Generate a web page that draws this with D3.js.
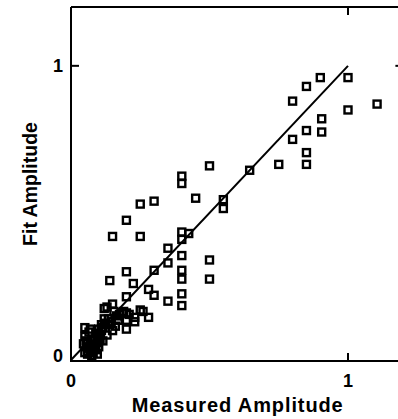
<!DOCTYPE html>
<html>
<head>
<meta charset="utf-8">
<script src="https://cdn.jsdelivr.net/npm/d3@7"></script>
<style>
  html, body { margin: 0; padding: 0; background: #fff; }
  svg { display: block; }
</style>
</head>
<body>
<svg id="chart" width="398" height="419"></svg>
<script>
// Measured amplitude (x) and fit amplitude (y) for each point
const measured = [
  1.00, 0.90, 0.85, 0.80, 1.00, 1.105, 0.905, 0.905, 0.85, 0.80,
  0.85, 0.85, 0.75, 0.645, 0.50, 0.55, 0.55, 0.40, 0.40, 0.45,
  0.30, 0.25, 0.20, 0.15, 0.25, 0.40, 0.425, 0.40, 0.35, 0.40,
  0.35, 0.50, 0.50, 0.40, 0.40, 0.40, 0.40, 0.35, 0.30, 0.20,
  0.14, 0.225, 0.28, 0.30, 0.20, 0.13, 0.15, 0.25, 0.26, 0.28,
  0.20, 0.20, 0.20, 0.05, 0.10, 0.15, 0.13, 0.12, 0.19, 0.155,
  0.12, 0.14, 0.11, 0.185, 0.21, 0.23, 0.23, 0.17, 0.16, 0.095,
  0.05, 0.055, 0.06, 0.05, 0.07, 0.075, 0.08, 0.085, 0.09, 0.095,
  0.10, 0.06, 0.08, 0.065, 0.11, 0.105, 0.07, 0.045, 0.09, 0.115,
  0.125, 0.135, 0.075, 0.10, 0.065, 0.085, 0.055, 0.095, 0.115, 0.145,
  0.165, 0.175, 0.105, 0.06
];
const fit = [
  0.96, 0.96, 0.93, 0.88, 0.85, 0.87, 0.82, 0.775, 0.78, 0.75,
  0.705, 0.665, 0.665, 0.645, 0.66, 0.545, 0.515, 0.625, 0.60, 0.55,
  0.54, 0.53, 0.475, 0.42, 0.42, 0.435, 0.43, 0.41, 0.38, 0.355,
  0.33, 0.34, 0.275, 0.305, 0.275, 0.225, 0.185, 0.20, 0.305, 0.30,
  0.27, 0.26, 0.24, 0.22, 0.215, 0.18, 0.19, 0.17, 0.165, 0.145,
  0.16, 0.135, 0.105, 0.11, 0.105, 0.10, 0.085, 0.175, 0.165, 0.165,
  0.14, 0.12, 0.12, 0.16, 0.155, 0.145, 0.13, 0.135, 0.115, 0.09,
  0.025, 0.045, 0.06, 0.08, 0.03, 0.05, 0.07, 0.04, 0.09, 0.06,
  0.075, 0.02, 0.025, 0.095, 0.10, 0.085, 0.105, 0.055, 0.035, 0.11,
  0.125, 0.14, 0.015, 0.045, 0.04, 0.055, 0.065, 0.02, 0.065, 0.13,
  0.15, 0.155, 0.07, 0.03
];
const fitLine = [[0, 0], [1, 1]];
const xTicks = [0, 1];
const yTicks = [0, 1];
const xTitle = "Measured Amplitude";
const yTitle = "Fit Amplitude";

const svg = d3.select("#chart");
const x = d3.scaleLinear().domain([0, 1.2]).range([71, 403.4]);
const y = d3.scaleLinear().domain([0, 1.2]).range([360, 7]);

const ink = "#000";

// frame
const frame = svg.append("g").attr("fill", "none").attr("stroke", ink).attr("stroke-width", 2);
frame.append("line").attr("x1", x(0)).attr("x2", x(1.2)).attr("y1", y(0) + 1).attr("y2", y(0) + 1);
frame.append("line").attr("x1", x(0)).attr("x2", x(1.2)).attr("y1", y(1.2)).attr("y2", y(1.2));
frame.append("line").attr("x1", x(0)).attr("x2", x(0)).attr("y1", y(1.2)).attr("y2", y(0) + 2);
frame.append("line").attr("x1", x(1.2)).attr("x2", x(1.2)).attr("y1", y(1.2)).attr("y2", y(0) + 2);

// ticks (inward, on all four sides) for non-zero ticks
const tl = 8;
xTicks.filter(v => v > 0).forEach(v => {
  frame.append("line").attr("x1", x(v)).attr("x2", x(v)).attr("y1", y(0) + 1).attr("y2", y(0) + 1 - tl);
  frame.append("line").attr("x1", x(v)).attr("x2", x(v)).attr("y1", y(1.2)).attr("y2", y(1.2) + tl);
});
yTicks.filter(v => v > 0).forEach(v => {
  frame.append("line").attr("x1", x(0)).attr("x2", x(0) + tl).attr("y1", y(v)).attr("y2", y(v));
  frame.append("line").attr("x1", x(1.2)).attr("x2", x(1.2) - tl).attr("y1", y(v)).attr("y2", y(v));
});

// tick labels
const font = "'Liberation Sans', Arial, sans-serif";
svg.append("g").selectAll("text").data(xTicks).join("text")
  .attr("x", d => x(d))
  .attr("y", y(0) + 27)
  .attr("text-anchor", "middle")
  .attr("font-family", font).attr("font-size", 18).attr("font-weight", "bold")
  .attr("fill", ink)
  .text(d => d);
svg.append("g").selectAll("text").data(yTicks).join("text")
  .attr("x", x(0) - 13)
  .attr("y", d => Math.min(y(d), y(0) - 4.5))
  .attr("dy", "0.35em")
  .attr("text-anchor", "middle")
  .attr("font-family", font).attr("font-size", 18).attr("font-weight", "bold")
  .attr("fill", ink)
  .text(d => d);

// axis titles
svg.append("text")
  .attr("x", (x(0) + x(1.2)) / 2)
  .attr("y", 412)
  .attr("text-anchor", "middle")
  .attr("font-family", font).attr("font-size", 20).attr("font-weight", "bold")
  .attr("textLength", 211).attr("lengthAdjust", "spacing")
  .attr("fill", ink)
  .text(xTitle);
svg.append("text")
  .attr("transform", `translate(37,${184}) rotate(-90)`)
  .attr("text-anchor", "middle")
  .attr("font-family", font).attr("font-size", 19.5).attr("font-weight", "bold")
  .attr("fill", ink)
  .text(yTitle);

// fit line
svg.append("path")
  .datum(fitLine)
  .attr("fill", "none").attr("stroke", ink).attr("stroke-width", 2)
  .attr("d", d3.line().x(d => x(d[0])).y(d => y(d[1])));

// points
const pts = measured.map((m, i) => ({ m, f: fit[i] }));
const s = 7;
svg.append("g").selectAll("rect").data(pts).join("rect")
  .attr("x", d => x(d.m) - s / 2)
  .attr("y", d => y(d.f) - s / 2)
  .attr("width", s).attr("height", s)
  .attr("fill", "none").attr("stroke", ink).attr("stroke-width", 2.4);
</script>
</body>
</html>
